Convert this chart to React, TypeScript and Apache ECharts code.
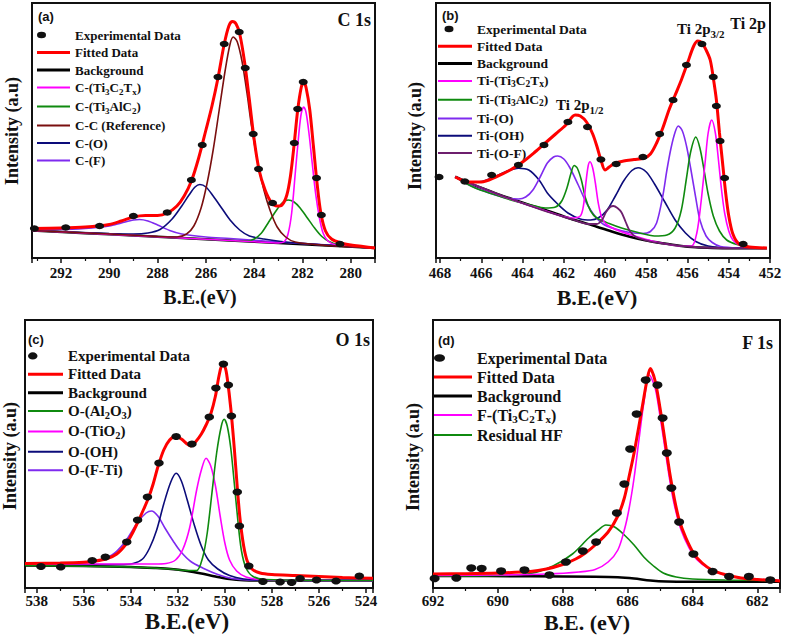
import React, { useEffect, useRef } from 'react';
import * as echarts from 'echarts';

type Pt = [number, number];

// ---------- (a) C 1s ----------
const aExperimental: Pt[] = [
  [293.1, 29.5], [291.8, 30.5], [290.4, 32], [289.0, 42], [287.6, 45.5], [286.6, 78], [286.15, 113],
  [285.5, 181], [285.24, 214], [284.62, 226], [284.37, 190], [284.04, 124], [283.82, 89], [283.24, 55],
  [282.34, 115], [282.2, 149], [281.97, 176], [281.42, 80], [281.22, 43], [280.45, 14],
];
const aFitted: Pt[] = [
  [293.2, 29.5], [292, 30], [291, 31], [290, 33.5], [289.5, 37], [289, 41], [288.5, 42.5], [288, 42.5],
  [287.6, 45], [287.2, 52], [286.9, 62], [286.6, 77], [286.3, 100], [286.0, 128], [285.75, 152], [285.5, 180],
  [285.25, 213], [285.05, 232], [284.9, 236.5], [284.75, 234], [284.6, 224], [284.4, 196], [284.2, 158],
  [284.0, 118], [283.8, 88], [283.55, 68], [283.3, 56], [283.05, 52], [282.85, 53], [282.65, 63], [282.5, 82],
  [282.35, 113], [282.2, 148], [282.05, 171], [281.95, 176], [281.85, 170], [281.7, 148], [281.55, 112],
  [281.4, 75], [281.25, 46], [281.05, 27], [280.8, 19], [280.4, 15], [280, 13], [279.5, 11.5], [279, 10],
];
const aBackground: Pt[] = [
  [293.2, 27.5], [291, 24.8], [289, 22.5], [287, 20], [285, 17.5], [283, 15], [281, 12.5], [279, 10],
];
const aTi3C2Tx: Pt[] = [
  [293.2, 27.5], [286, 18.8], [284, 16.3], [283, 15], [282.75, 16.5], [282.6, 24], [282.45, 45], [282.3, 85],
  [282.15, 125], [282.05, 145], [281.95, 151], [281.85, 145], [281.72, 122], [281.6, 95], [281.45, 63],
  [281.3, 40], [281.15, 25], [280.95, 17], [280.6, 13], [279, 10],
];
const aTi3AlC2: Pt[] = [
  [293.2, 27.5], [287, 20], [285, 17.5], [284.3, 17], [284.0, 19], [283.7, 25], [283.4, 36], [283.1, 47],
  [282.85, 55], [282.6, 58], [282.35, 56], [282.1, 50], [281.8, 40], [281.5, 30], [281.2, 21.5], [280.9, 16.5],
  [280.5, 13], [279, 10],
];
const aCC: Pt[] = [
  [293.2, 27.5], [290, 24], [288, 21.5], [287.2, 21], [286.8, 24], [286.5, 32], [286.2, 50], [285.95, 75],
  [285.7, 108], [285.45, 148], [285.2, 188], [285.0, 214], [284.87, 221], [284.7, 216], [284.5, 196],
  [284.3, 165], [284.1, 130], [283.85, 95], [283.6, 68], [283.35, 48], [283.05, 31], [282.7, 21], [282.3, 16],
  [281, 12.5], [279, 10],
];
const aCO: Pt[] = [
  [293.2, 27.5], [290, 24.5], [289, 24], [288.4, 25], [287.9, 28.5], [287.4, 39], [287.0, 52], [286.7, 63],
  [286.45, 71], [286.25, 73.5], [286.0, 71], [285.7, 62], [285.35, 50], [285.0, 38], [284.6, 28], [284.2, 22],
  [283.6, 19], [282.5, 15.5], [279, 10],
];
const aCF: Pt[] = [
  [293.2, 28.5], [292, 28.5], [291, 29.5], [290, 32], [289.5, 35], [289, 38], [288.75, 38.5], [288.4, 37],
  [288, 33], [287.5, 27.5], [287, 24], [286, 21], [285, 19.5], [283, 16], [279, 10],
];

// ---------- (b) Ti 2p ----------
const bExperimental: Pt[] = [
  [468.05, 81], [466.8, 76.5], [465.5, 83], [464.2, 93], [462.96, 113], [461.8, 136], [460.85, 131],
  [460.2, 98.5], [459.46, 94], [458.16, 101], [457.35, 124], [456.7, 158], [456.05, 193], [455.3, 214],
  [454.75, 181], [454.6, 152], [454.42, 117], [454.2, 80], [453.3, 14],
];
const bFitted: Pt[] = [
  [467.27, 81], [466.6, 76], [466.0, 76], [465.3, 81], [464.6, 88], [464.0, 96], [463.4, 106], [462.9, 115],
  [462.4, 124], [461.9, 133], [461.45, 143], [461.2, 142], [460.9, 136], [460.6, 124], [460.4, 112],
  [460.2, 98], [460.0, 88], [459.8, 91], [459.5, 95], [459.1, 97], [458.6, 98.5], [458.1, 100], [457.8, 104],
  [457.5, 115], [457.2, 130], [456.9, 148], [456.6, 163], [456.3, 178], [456.0, 195], [455.7, 212],
  [455.5, 217], [455.3, 215], [455.1, 208], [454.9, 198], [454.75, 180], [454.6, 158], [454.45, 125],
  [454.3, 95], [454.15, 65], [454.0, 42], [453.8, 24], [453.5, 14], [453.0, 11], [452.15, 10],
];
const bBackground: Pt[] = [
  [467.27, 81.3], [466.3, 72.5], [465.3, 64.7], [464.1, 56], [462.9, 48], [461.7, 39.5], [460.4, 31.3],
  [459.6, 26], [458.8, 21.3], [458.0, 17.5], [457.2, 14.7], [456.4, 12.3], [455.6, 10.7], [454.8, 10],
  [453.9, 9.7], [452.15, 9.7],
];
const bTi3C2Tx: Pt[] = [
  [467.27, 81], [465, 62], [463, 48], [461.6, 40], [461.2, 42], [461.05, 52], [460.93, 75], [460.82, 92],
  [460.73, 96.3], [460.6, 90], [460.47, 75], [460.33, 55], [460.15, 40], [459.9, 33], [459.3, 27], [458.4, 21],
  [457.4, 15.5], [456.3, 12], [455.8, 12], [455.55, 25], [455.35, 55], [455.15, 95], [455.0, 125],
  [454.83, 138], [454.65, 125], [454.5, 98], [454.35, 68], [454.2, 45], [454.0, 27], [453.8, 18],
  [453.45, 12.5], [453.0, 10.5], [452.15, 9.7],
];
const bTi3AlC2: Pt[] = [
  [467.27, 81], [466.3, 70], [465.3, 63], [464.4, 57], [463.6, 53], [462.9, 50], [462.4, 51], [462.1, 57],
  [461.85, 70], [461.65, 85], [461.5, 92.5], [461.35, 90], [461.15, 78], [460.95, 60], [460.7, 47],
  [460.4, 40], [459.8, 34.5], [459.2, 30], [458.4, 25.5], [457.6, 22], [457.0, 23], [456.6, 30], [456.3, 48],
  [456.05, 80], [455.85, 106], [455.6, 121], [455.4, 110], [455.2, 88], [455.0, 64], [454.75, 42],
  [454.45, 27], [454.1, 18], [453.6, 13.5], [453.0, 11], [452.15, 10],
];
const bTiO: Pt[] = [
  [467.27, 81], [466.5, 72], [465.6, 65], [464.8, 60], [464.2, 59], [463.85, 61], [463.5, 68], [463.1, 83],
  [462.8, 95], [462.5, 101], [462.3, 102], [462.0, 99], [461.7, 90], [461.3, 73], [460.9, 55], [460.5, 42],
  [460.1, 34], [459.5, 29], [458.8, 25.5], [458.2, 24.5], [457.8, 26.5], [457.5, 35], [457.2, 62],
  [457.0, 88], [456.8, 110], [456.6, 126], [456.45, 132], [456.25, 127], [456.05, 112], [455.85, 90],
  [455.6, 60], [455.4, 38], [455.1, 22], [454.8, 15.5], [454.4, 11.5], [453.5, 10], [452.15, 9.7],
];
const bTiOH: Pt[] = [
  [467.27, 81], [466.6, 76], [466.0, 76.5], [465.4, 81], [464.8, 86.5], [464.2, 89.7], [463.7, 88],
  [463.2, 78], [462.8, 65], [462.3, 54], [461.8, 45], [461.2, 39], [460.7, 38], [460.3, 40.5], [459.9, 48],
  [459.5, 62], [459.1, 77], [458.7, 87.5], [458.4, 90.3], [458.0, 86], [457.6, 74], [457.1, 56], [456.6, 38],
  [456.1, 25], [455.6, 16.5], [455.0, 12], [454.0, 10], [452.15, 9.7],
];
const bTiOF: Pt[] = [
  [467.27, 81], [465.3, 64.7], [463, 47.5], [461.5, 38], [460.8, 34], [460.4, 34], [460.15, 38], [459.95, 46],
  [459.75, 51], [459.6, 52], [459.4, 50], [459.2, 45.5], [459.0, 36], [458.8, 27], [458.5, 21], [457.8, 16.5],
  [457.2, 14.5], [456, 11.5], [454.5, 10], [452.15, 9.7],
];

// ---------- (c) O 1s ----------
const cExperimental: Pt[] = [
  [537.82, 21.5], [536.98, 21], [535.64, 27.5], [535.08, 31], [534.17, 46], [533.71, 68], [533.29, 91],
  [532.8, 125], [532.07, 151.5], [531.4, 144], [530.66, 171], [530.38, 200], [530.06, 224], [529.85, 203],
  [529.72, 172], [529.47, 96], [529.38, 62], [528.98, 22], [528.38, 6.5], [527.65, 6], [527.16, 5.5],
  [526.8, 9.5], [526.1, 8], [525.27, 7], [524.28, 12],
];
const cFitted: Pt[] = [
  [538.5, 24.5], [537, 25], [536, 25.8], [535.5, 27], [535, 29.5], [534.6, 34], [534.2, 44], [533.95, 54],
  [533.7, 66], [533.45, 79], [533.25, 90], [533.05, 104], [532.85, 121], [532.6, 138], [532.35, 148],
  [532.1, 151.5], [531.85, 149], [531.6, 144], [531.45, 142], [531.25, 146], [531.0, 154], [530.8, 163],
  [530.6, 174], [530.4, 192], [530.25, 212], [530.1, 224], [529.98, 220], [529.9, 210], [529.75, 180],
  [529.6, 140], [529.47, 100], [529.35, 68], [529.2, 42], [529.05, 27], [528.85, 19], [528.5, 15],
  [528, 13.5], [527, 12.5], [526, 11.5], [525, 10.5], [523.7, 9.7],
];
const cBackground: Pt[] = [
  [538.5, 22.5], [536, 22], [534, 21], [533, 20], [532.3, 19], [531.6, 17], [531, 14.5], [530.4, 11.5],
  [529.8, 9], [529.2, 7.8], [528.5, 7.5], [523.7, 7.5],
];
const cAl2O3: Pt[] = [
  [538.5, 22.5], [534, 21], [532.3, 19], [531.6, 17.5], [531.2, 17.5], [530.95, 30], [530.75, 55],
  [530.55, 95], [530.35, 135], [530.15, 162], [530.03, 168.7], [529.9, 162], [529.75, 140], [529.6, 105],
  [529.45, 68], [529.3, 38], [529.1, 20], [528.8, 11.5], [528.3, 8.5], [523.7, 7.5],
];
const cTiO2: Pt[] = [
  [538.5, 24], [535, 24], [533, 24], [532.5, 24.5], [532.1, 28], [531.8, 38], [531.5, 60], [531.2, 98],
  [531.0, 118], [530.8, 129.7], [530.6, 122], [530.4, 102], [530.2, 72], [530.0, 45], [529.8, 28],
  [529.5, 17], [529.1, 11], [528.5, 8.5], [523.7, 7.5],
];
const cOH: Pt[] = [
  [538.5, 23.5], [534.5, 23.5], [533.9, 24.5], [533.5, 29], [533.2, 40], [532.9, 58], [532.6, 84],
  [532.3, 106], [532.07, 114.7], [531.85, 107], [531.6, 88], [531.3, 63], [531.0, 42], [530.7, 28],
  [530.3, 19], [529.8, 12.5], [529.2, 9], [528.5, 8], [523.7, 7.5],
];
const cFTi: Pt[] = [
  [538.5, 23.5], [536.8, 24], [535.6, 26.5], [534.8, 33], [534.25, 46], [533.7, 66], [533.35, 75],
  [533.12, 77], [532.85, 72], [532.55, 60], [532.2, 47], [531.9, 37], [531.45, 26.5], [530.9, 19.5],
  [530.3, 13.5], [529.7, 9.5], [529, 8], [523.7, 7.5],
];

// ---------- (d) F 1s ----------
const dExperimental: Pt[] = [
  [691.95, 9.5], [691.28, 10], [690.82, 20], [690.5, 19.5], [689.9, 17], [689.18, 18], [688.41, 13],
  [687.9, 26], [687.38, 37], [686.97, 46], [686.33, 75], [686.1, 104], [685.92, 139], [685.72, 174],
  [685.44, 208], [685.08, 203], [684.92, 170], [684.79, 135], [684.65, 100], [684.41, 66], [683.97, 34],
  [683.38, 16.5], [682.87, 11.5], [682.26, 11.5], [681.6, 8],
];
const dFitted: Pt[] = [
  [692, 14], [691, 14.3], [690, 15], [689, 16.5], [688.5, 19], [688, 23.5], [687.6, 29], [687.3, 35],
  [687.0, 43], [686.6, 56], [686.3, 72], [686.1, 90], [685.95, 112], [685.8, 135], [685.65, 162],
  [685.5, 190], [685.4, 208], [685.3, 219.5], [685.15, 207], [685.0, 180], [684.85, 148], [684.7, 115],
  [684.55, 88], [684.4, 67], [684.2, 50], [683.95, 34], [683.7, 25], [683.4, 18], [683.0, 13.5],
  [682.5, 10], [682, 8.5], [681.3, 7],
];
const dBackground: Pt[] = [
  [692, 12], [689, 11.8], [687, 11.3], [686.3, 10.8], [685.8, 9.5], [685.3, 7.5], [684.8, 6.5], [684, 6.3],
  [681.3, 6.3],
];
const dTi3C2Tx: Pt[] = [
  [692, 12.5], [690, 13], [688.5, 14], [687.5, 16], [687, 18.5], [686.6, 26], [686.3, 38], [686.1, 58],
  [685.95, 80], [685.8, 110], [685.65, 148], [685.5, 185], [685.33, 213], [685.15, 200], [685.0, 172],
  [684.85, 140], [684.7, 108], [684.55, 82], [684.35, 58], [684.1, 40], [683.85, 28], [683.5, 19.5],
  [683, 13], [682.3, 9.5], [681.3, 7.5],
];
const dResidualHF: Pt[] = [
  [692, 12], [690, 12.5], [689, 14.5], [688.3, 22], [687.7, 34], [687.2, 50], [686.9, 58], [686.67, 63],
  [686.4, 61], [686.1, 53], [685.8, 43], [685.5, 31], [685.2, 22], [684.9, 15], [684.5, 11], [684, 9],
  [683, 8], [681.3, 7.5],
];

// Legend entries of each panel, in the order of the key
const aLegend = ['Experimental Data', 'Fitted Data', 'Background', 'C-(Ti3C2Tx)', 'C-(Ti3AlC2)', 'C-C (Reference)', 'C-(O)', 'C-(F)'];
const bLegend = ['Experimental Data', 'Fitted Data', 'Background', 'Ti-(Ti3C2Tx)', 'Ti-(Ti3AlC2)', 'Ti-(O)', 'Ti-(OH)', 'Ti-(O-F)'];
const cLegend = ['Experimental Data', 'Fitted Data', 'Background', 'O-(Al2O3)', 'O-(TiO2)', 'O-(OH)', 'O-(F-Ti)'];
const dLegend = ['Experimental Data', 'Fitted Data', 'Background', 'F-(Ti3C2Tx)', 'Residual HF'];

// Rich-text forms of the names with subscripts
const RICH_NAMES: Record<string, string> = {
  'C-(Ti3C2Tx)': 'C-(Ti{s|3}C{s|2}T{s|x})',
  'C-(Ti3AlC2)': 'C-(Ti{s|3}AlC{s|2})',
  'Ti-(Ti3C2Tx)': 'Ti-(Ti{s|3}C{s|2}T{s|x})',
  'Ti-(Ti3AlC2)': 'Ti-(Ti{s|3}AlC{s|2})',
  'O-(Al2O3)': 'O-(Al{s|2}O{s|3})',
  'O-(TiO2)': 'O-(TiO{s|2})',
  'F-(Ti3C2Tx)': 'F-(Ti{s|3}C{s|2}T{s|x})',
};

const SERIF = '"Liberation Serif", "Times New Roman", serif';
const SANS = '"Liberation Sans", Arial, sans-serif';
const INK = '#111111';

const RED = '#ff0000';
const BLACK = '#000000';
const MAGENTA = '#ff00ff';
const GREEN = '#0f8a0f';
const MAROON = '#7a0f0f';
const NAVY = '#0c0c7a';
const VIOLET = '#7f2bef';
const PLUM = '#6d1f6d';

// Legend key for the measured points: a small ellipse at the left of the key box
function dotIcon(w: number, h: number, cx: number, rx: number, ry: number) {
  const cy = h / 2;
  return `path://M${cx - rx},${cy}A${rx},${ry},0,1,1,${cx + rx},${cy}A${rx},${ry},0,1,1,${cx - rx},${cy}Z` +
    `M0,0L0,0M${w},${h}L${w},${h}`;
}

// Legend key for a curve: a plain stroke across the key box
function barIcon(w: number, h: number, t: number) {
  const y0 = h / 2 - t / 2;
  const y1 = h / 2 + t / 2;
  return `path://M0,${y0}L${w},${y0}L${w},${y1}L0,${y1}Z` + `M0,0L0,0M${w},${h}L${w},${h}`;
}

interface Curve { name: string; data: Pt[]; color: string; width: number; }

interface Panel {
  grid: { left: number; top: number; width: number; height: number };
  xMin: number; xMax: number; yMax: number;
  showMin: boolean; showMax: boolean; labelMargin: number;
  dots: Pt[]; dotSize: [number, number];
  curves: Curve[];
  legend: { names: string[]; left: number; top: number; itemWidth: number; itemHeight: number; itemGap: number;
    fontSize: number; subSize: number; subLine: number; dot: [number, number, number] };
}

const panels: Panel[] = [
  {
    grid: { left: 32, top: 3, width: 343, height: 255 }, xMin: 279, xMax: 293.2, yMax: 255,
    showMin: false, showMax: false, labelMargin: 7, dots: aExperimental, dotSize: [9, 6.5],
    curves: [
      { name: 'Background', data: aBackground, color: BLACK, width: 2.5 },
      { name: 'C-(F)', data: aCF, color: VIOLET, width: 1.6 },
      { name: 'C-(O)', data: aCO, color: NAVY, width: 1.6 },
      { name: 'C-(Ti3AlC2)', data: aTi3AlC2, color: GREEN, width: 1.6 },
      { name: 'C-(Ti3C2Tx)', data: aTi3C2Tx, color: MAGENTA, width: 1.6 },
      { name: 'C-C (Reference)', data: aCC, color: MAROON, width: 1.6 },
      { name: 'Fitted Data', data: aFitted, color: RED, width: 3 },
    ],
    legend: { names: aLegend, left: 37, top: 28, itemWidth: 33, itemHeight: 14, itemGap: 3.5, fontSize: 13,
      subSize: 9, subLine: 17, dot: [4.5, 4.5, 3.2] },
  },
  {
    grid: { left: 436, top: 3, width: 334, height: 255 }, xMin: 452, xMax: 468.2, yMax: 255,
    showMin: true, showMax: false, labelMargin: 7, dots: bExperimental, dotSize: [9, 6.5],
    curves: [
      { name: 'Background', data: bBackground, color: BLACK, width: 2.5 },
      { name: 'Ti-(OH)', data: bTiOH, color: NAVY, width: 1.6 },
      { name: 'Ti-(O)', data: bTiO, color: VIOLET, width: 1.6 },
      { name: 'Ti-(Ti3AlC2)', data: bTi3AlC2, color: GREEN, width: 1.6 },
      { name: 'Ti-(Ti3C2Tx)', data: bTi3C2Tx, color: MAGENTA, width: 1.6 },
      { name: 'Ti-(O-F)', data: bTiOF, color: PLUM, width: 1.8 },
      { name: 'Fitted Data', data: bFitted, color: RED, width: 3 },
    ],
    legend: { names: bLegend, left: 438, top: 22, itemWidth: 34, itemHeight: 14, itemGap: 3.3, fontSize: 13.5,
      subSize: 9.5, subLine: 17, dot: [11, 4.5, 3.2] },
  },
  {
    grid: { left: 25, top: 320, width: 348, height: 268 }, xMin: 523.7, xMax: 538.5, yMax: 268,
    showMin: false, showMax: false, labelMargin: 5, dots: cExperimental, dotSize: [9.5, 7],
    curves: [
      { name: 'Background', data: cBackground, color: BLACK, width: 2.5 },
      { name: 'O-(F-Ti)', data: cFTi, color: VIOLET, width: 1.6 },
      { name: 'O-(OH)', data: cOH, color: NAVY, width: 1.6 },
      { name: 'O-(TiO2)', data: cTiO2, color: MAGENTA, width: 1.6 },
      { name: 'O-(Al2O3)', data: cAl2O3, color: GREEN, width: 1.6 },
      { name: 'Fitted Data', data: cFitted, color: RED, width: 3 },
    ],
    legend: { names: cLegend, left: 28, top: 348, itemWidth: 35, itemHeight: 16, itemGap: 2.4, fontSize: 15,
      subSize: 10.5, subLine: 20, dot: [4.5, 4.8, 3.6] },
  },
  {
    grid: { left: 433, top: 320, width: 347, height: 268 }, xMin: 681.3, xMax: 692, yMax: 268,
    showMin: false, showMax: true, labelMargin: 5, dots: dExperimental, dotSize: [10, 7.5],
    curves: [
      { name: 'Background', data: dBackground, color: BLACK, width: 2.5 },
      { name: 'Residual HF', data: dResidualHF, color: GREEN, width: 1.6 },
      { name: 'F-(Ti3C2Tx)', data: dTi3C2Tx, color: MAGENTA, width: 1.6 },
      { name: 'Fitted Data', data: dFitted, color: RED, width: 3 },
    ],
    legend: { names: dLegend, left: 434, top: 350, itemWidth: 38, itemHeight: 16, itemGap: 3, fontSize: 16,
      subSize: 11, subLine: 18, dot: [5.5, 5.5, 3.8] },
  },
];

function text(x: number, y: number, str: string, font: string, align = 'left', rotation = 0, rich?: any) {
  return {
    type: 'text', x, y, rotation, silent: true,
    style: { text: str, font, fill: INK, align, verticalAlign: 'middle', textAlign: align, textVerticalAlign: 'middle', rich },
  };
}

function subRich(size: number, lineHeight: number) {
  return {
    s: { fontSize: size, fontFamily: SERIF, fontWeight: 'bold', fill: INK, verticalAlign: 'bottom', lineHeight },
  };
}

function buildOption() {
  const grid: any[] = [];
  const xAxis: any[] = [];
  const yAxis: any[] = [];
  const series: any[] = [];
  const legend: any[] = [];

  panels.forEach((p, i) => {
    grid.push({ ...p.grid, show: true, borderColor: INK, borderWidth: 2, backgroundColor: 'transparent',
      containLabel: false, outerBoundsMode: 'none' });
    xAxis.push({
      gridIndex: i, type: 'value', inverse: true, min: p.xMin, max: p.xMax, splitNumber: 7,
      axisLine: { show: false },
      axisTick: { show: true, inside: false, length: 5, lineStyle: { color: INK, width: 1.5 } },
      minorTick: { show: true, splitNumber: 2, length: 3, lineStyle: { color: INK, width: 1.2 } },
      splitLine: { show: false }, minorSplitLine: { show: false },
      axisLabel: { margin: p.labelMargin, fontFamily: SERIF, fontWeight: 'bold', fontSize: 15, color: INK,
        showMinLabel: p.showMin, showMaxLabel: p.showMax },
    });
    yAxis.push({ gridIndex: i, type: 'value', min: 0, max: p.yMax, show: false, splitLine: { show: false } });

    const colorOf: Record<string, { color: string; width: number }> = {};
    p.curves.forEach((c) => {
      colorOf[c.name] = { color: c.color, width: c.width };
      series.push({
        type: 'line', name: c.name, data: c.data, xAxisIndex: i, yAxisIndex: i, symbol: 'none', smooth: 0.3,
        lineStyle: { color: c.color, width: c.width }, itemStyle: { color: c.color },
        silent: true, z: c.name === 'Fitted Data' ? 4 : c.name === 'Background' ? 2 : 3,
      });
    });
    series.push({
      type: 'scatter', name: 'Experimental Data', data: p.dots, xAxisIndex: i, yAxisIndex: i,
      symbol: 'circle', symbolSize: p.dotSize, itemStyle: { color: INK, opacity: 1 }, silent: true, z: 5,
    });

    const L = p.legend;
    legend.push({
      orient: 'vertical', left: L.left, top: L.top, itemWidth: L.itemWidth, itemHeight: L.itemHeight,
      itemGap: L.itemGap, padding: 0, selectedMode: false, align: 'left',
      data: L.names.map((n) => {
        if (n === 'Experimental Data') {
          return { name: n, icon: dotIcon(L.itemWidth, L.itemHeight, L.dot[0], L.dot[1], L.dot[2]),
            itemStyle: { color: INK, borderWidth: 0, opacity: 1 } };
        }
        const c = colorOf[n];
        const thick = c.width >= 2.5 ? 3 : 2;
        return { name: n, icon: barIcon(L.itemWidth, L.itemHeight, thick),
          itemStyle: { color: c.color, borderWidth: 0, opacity: 1 } };
      }),
      formatter: (name: string) => RICH_NAMES[name] ?? name,
      textStyle: {
        fontFamily: SERIF, fontWeight: 'bold', fontSize: L.fontSize, color: INK,
        rich: { s: { fontSize: L.subSize, fontFamily: SERIF, fontWeight: 'bold', color: INK, verticalAlign: 'bottom', lineHeight: L.subLine } },
      },
    });
  });

  const graphic: any[] = [
    // panel tags and core-level names
    text(38, 16, '(a)', `bold 13px ${SANS}`),
    text(371, 20, 'C 1s', `bold 18px ${SERIF}`, 'right'),
    text(442, 15, '(b)', `bold 13px ${SANS}`),
    text(766, 23, 'Ti 2p', `bold 16px ${SERIF}`, 'right'),
    text(28, 339, '(c)', `bold 13px ${SANS}`),
    text(370, 340, 'O 1s', `bold 18px ${SERIF}`, 'right'),
    text(438, 340, '(d)', `bold 13px ${SANS}`),
    text(773, 343, 'F 1s', `bold 18px ${SERIF}`, 'right'),
    // spin-orbit components
    text(556, 105, 'Ti 2p{s|1/2}', `bold 15px ${SERIF}`, 'left', 0, subRich(11, 21)),
    text(677, 29, 'Ti 2p{s|3/2}', `bold 15px ${SERIF}`, 'left', 0, subRich(11, 21)),
    // axis titles
    text(200, 297, 'B.E.(eV)', `bold 20px ${SERIF}`, 'center'),
    text(597, 297, 'B.E.(eV)', `bold 22px ${SERIF}`, 'center'),
    text(187, 621, 'B.E.(eV)', `bold 23px ${SERIF}`, 'center'),
    text(587, 622, 'B.E. (eV)', `bold 22px ${SERIF}`, 'center'),
    text(12, 131, 'Intensity (a.u)', `bold 18px ${SERIF}`, 'center', Math.PI / 2),
    text(415, 136, 'Intensity (a.u)', `bold 18px ${SERIF}`, 'center', Math.PI / 2),
    text(10, 456, 'Intensity (a.u)', `bold 18px ${SERIF}`, 'center', Math.PI / 2),
    text(413, 457, 'Intensity (a.u)', `bold 18px ${SERIF}`, 'center', Math.PI / 2),
  ];

  return { animation: false, backgroundColor: '#ffffff', grid, xAxis, yAxis, series, legend, graphic };
}

export default function App() {
  const ref = useRef<HTMLDivElement>(null);
  useEffect(() => {
    if (!ref.current) return;
    const chart = echarts.init(ref.current, null, { renderer: 'svg' });
    chart.setOption(buildOption() as any);
    return () => chart.dispose();
  }, []);
  return (
    <div
      ref={ref}
      style={{ position: 'fixed', left: 0, top: 0, width: 787, height: 635, background: '#ffffff' }}
    />
  );
}
